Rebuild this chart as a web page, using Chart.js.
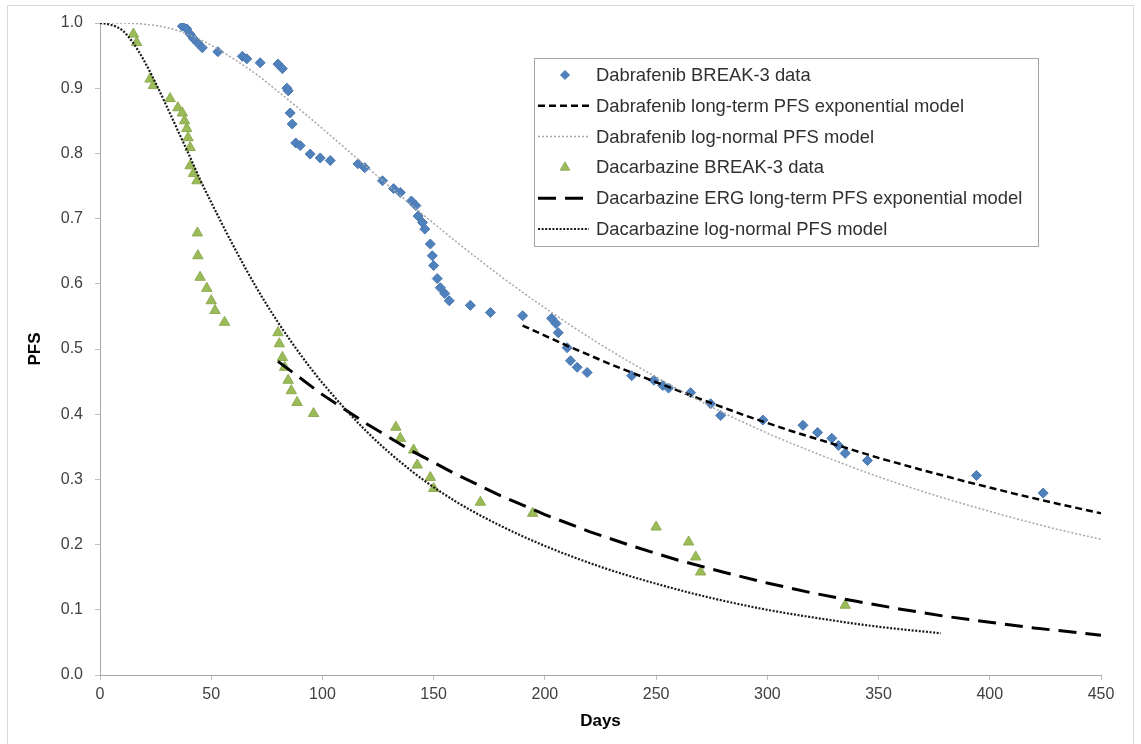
<!DOCTYPE html>
<html>
<head>
<meta charset="utf-8">
<title>PFS models</title>
<script src="https://cdn.jsdelivr.net/npm/chart.js@4.4.0/dist/chart.umd.min.js"></script>
<style>
  html, body { margin: 0; padding: 0; background: #ffffff; }
  #wrap { position: relative; width: 1141px; height: 744px; }
</style>
</head>
<body>
<div id="wrap"><canvas id="chart_pfs" width="1141" height="744"></canvas></div>
<script>
/************************************************************
    DATA
*************************************************************/
var seriesNames = [
  'Dabrafenib BREAK-3 data',
  'Dabrafenib long-term PFS exponential model',
  'Dabrafenib log-normal PFS model',
  'Dacarbazine BREAK-3 data',
  'Dacarbazine ERG long-term PFS exponential model',
  'Dacarbazine log-normal PFS model'
];

// Dabrafenib BREAK-3 KM points
var dabDays = [37, 39, 40.5, 42, 44, 46, 53, 64, 66, 72, 80, 82, 84, 84.6, 85.5, 86.4, 88, 90, 94.5, 99, 103.5,
  116, 119, 127, 132, 135, 140, 142, 143, 145, 146, 148.5, 149.4, 150, 151.6, 153, 155, 157, 166.5, 175.5,
  190, 203, 205, 206, 210, 211.5, 214.5, 219, 239, 249, 253, 255.6, 265.5, 274.5, 279, 298, 316, 322.6,
  329, 332, 335, 345, 394, 424];
var dabPfs = [0.995, 0.991, 0.983, 0.976, 0.969, 0.962, 0.956, 0.949, 0.945, 0.939, 0.937, 0.930, 0.900, 0.896, 0.862, 0.845, 0.816, 0.812, 0.799, 0.793, 0.789,
  0.784, 0.778, 0.758, 0.746, 0.740, 0.727, 0.720, 0.704, 0.694, 0.684, 0.661, 0.643, 0.628, 0.608, 0.594, 0.585, 0.574, 0.567, 0.556,
  0.551, 0.547, 0.539, 0.525, 0.502, 0.482, 0.472, 0.464, 0.459, 0.452, 0.444, 0.440, 0.433, 0.416, 0.398, 0.391, 0.383, 0.372,
  0.363, 0.352, 0.340, 0.329, 0.306, 0.279];

// Dabrafenib long-term exponential model
var dabExpDays = [190, 210, 230, 250, 270, 290, 310, 330, 350, 370, 390, 410, 430, 450];
var dabExpPfs = [0.536, 0.505, 0.476, 0.449, 0.423, 0.398, 0.375, 0.354, 0.333, 0.314, 0.296, 0.279, 0.263, 0.248];

// Dabrafenib log-normal model
var dabLnDays = [0, 10, 20, 30, 40, 50, 60, 70, 80, 90, 100, 120, 140, 160, 180, 200, 225, 250, 275, 300, 325, 350, 375, 400, 425, 450];
var dabLnPfs = [1.0, 1.0, 0.998, 0.993, 0.982, 0.966, 0.945, 0.922, 0.895, 0.867, 0.838, 0.779, 0.721, 0.665, 0.612, 0.563, 0.507, 0.457, 0.411, 0.371, 0.336, 0.304, 0.276, 0.251, 0.228, 0.208];

// Dacarbazine BREAK-3 KM points
var dacDays = [15, 16.5, 22.5, 24, 31.5, 35, 37, 38, 39, 39.6, 40.5, 40.5, 42, 43.6, 43.8, 44, 45, 48, 50, 51.7, 56,
  80, 80.6, 82, 83, 84.6, 86, 88.6, 96, 133, 135, 141, 142.6, 148.5, 150, 171, 194.5, 250, 264.6, 267.8, 270, 335];
var dacPfs = [0.983, 0.970, 0.914, 0.904, 0.884, 0.870, 0.862, 0.850, 0.838, 0.824, 0.809, 0.781, 0.769, 0.758, 0.678, 0.643, 0.610, 0.593, 0.574, 0.559, 0.541,
  0.525, 0.508, 0.487, 0.472, 0.452, 0.436, 0.418, 0.401, 0.380, 0.363, 0.345, 0.322, 0.303, 0.286, 0.265, 0.248, 0.227, 0.204, 0.181, 0.158, 0.107];

// Dacarbazine ERG long-term exponential model
var dacExpDays = [80, 100, 120, 140, 160, 180, 200, 220, 240, 260, 280, 300, 320, 340, 360, 380, 400, 420, 440, 450];
var dacExpPfs = [0.481, 0.430, 0.385, 0.344, 0.308, 0.275, 0.246, 0.220, 0.197, 0.176, 0.158, 0.141, 0.126, 0.113, 0.101, 0.090, 0.081, 0.072, 0.065, 0.061];

// Dacarbazine log-normal model
var dacLnDays = [0, 5, 10, 15, 20, 25, 30, 35, 40, 45, 50, 60, 70, 80, 90, 100, 120, 140, 160, 180, 200, 225, 250, 275, 300, 325, 350, 378];
var dacLnPfs = [1.0, 0.997, 0.989, 0.969, 0.941, 0.908, 0.872, 0.835, 0.798, 0.760, 0.725, 0.658, 0.596, 0.541, 0.492, 0.448, 0.373, 0.313, 0.266, 0.229, 0.198, 0.166, 0.140, 0.118, 0.100, 0.086, 0.074, 0.064];

/************************************************************
    helpers
*************************************************************/
function toXY(xs, ys) {
  var out = [];
  for (var i = 0; i < xs.length; i++) out.push({x: xs[i], y: ys[i]});
  return out;
}

Chart.defaults.font.family = '"Liberation Sans", Arial, sans-serif';

/* ------------------
  outer frame
-------------------*/
var framePlugin = {
  id: 'frame',
  beforeDraw: function (chart) {
    var ctx = chart.ctx;
    ctx.save();
    ctx.fillStyle = '#ffffff';
    ctx.fillRect(0, 0, chart.width, chart.height);
    ctx.strokeStyle = '#d9d9d9';
    ctx.lineWidth = 1;
    ctx.strokeRect(7.5, 5.5, 1126, 800);
    ctx.restore();
  }
};

/* ------------------
  legend box inside plot
-------------------*/
var boxLegend = {
  id: 'boxLegend',
  afterDraw: function (chart) {
    var ctx = chart.ctx;
    var sets = chart.data.datasets;
    ctx.save();
    ctx.fillStyle = '#ffffff';
    ctx.fillRect(534, 58, 504, 188);
    ctx.strokeStyle = '#a6a6a6';
    ctx.lineWidth = 1;
    ctx.strokeRect(534.5, 58.5, 504, 188);

    for (var i = 0; i < sets.length; i++) {
      var ds = sets[i];
      var y = 75 + i * 30.8;
      if (ds.showLine) {
        ctx.beginPath();
        ctx.setLineDash(ds.borderDash || []);
        ctx.strokeStyle = ds.borderColor;
        ctx.lineWidth = ds.borderWidth;
        ctx.moveTo(538, y);
        ctx.lineTo(589, y);
        ctx.stroke();
        ctx.setLineDash([]);
      } else {
        ctx.fillStyle = ds.backgroundColor;
        ctx.strokeStyle = ds.borderColor;
        ctx.lineWidth = 1;
        Chart.helpers.drawPoint(ctx, {pointStyle: ds.pointStyle, rotation: 0, radius: ds.pointRadius - 0.5, borderWidth: 1}, 565, y);
      }
      ctx.fillStyle = '#303030';
      ctx.font = '18.4px "Liberation Sans", Arial, sans-serif';
      ctx.textBaseline = 'middle';
      ctx.textAlign = 'left';
      ctx.fillText(ds.label, 596, y + 1);
    }
    ctx.restore();
  }
};

/* ------------------
  scatter chart
-------------------*/
new Chart(document.getElementById('chart_pfs'), {
  type: 'scatter',
  data: {
    datasets: [
      {
        label: seriesNames[0],
        data: toXY(dabDays, dabPfs),
        pointStyle: 'rectRot',
        pointRadius: 5,
        backgroundColor: '#4f81bd',
        borderColor: '#4a78b0',
        borderWidth: 1,
        order: 6
      },
      {
        label: seriesNames[1],
        data: toXY(dabExpDays, dabExpPfs),
        showLine: true,
        pointRadius: 0,
        borderColor: '#000000',
        borderWidth: 2.5,
        borderDash: [7, 4],
        order: 5
      },
      {
        label: seriesNames[2],
        data: toXY(dabLnDays, dabLnPfs),
        showLine: true,
        pointRadius: 0,
        borderColor: '#a6a6a6',
        borderWidth: 1.5,
        borderDash: [2, 2],
        cubicInterpolationMode: 'monotone',
        order: 4
      },
      {
        label: seriesNames[3],
        data: toXY(dacDays, dacPfs),
        pointStyle: 'triangle',
        pointRadius: 6,
        backgroundColor: '#9bbb59',
        borderColor: '#8eab51',
        borderWidth: 1,
        order: 3
      },
      {
        label: seriesNames[4],
        data: toXY(dacExpDays, dacExpPfs),
        showLine: true,
        pointRadius: 0,
        borderColor: '#000000',
        borderWidth: 3,
        borderDash: [18, 9],
        order: 2
      },
      {
        label: seriesNames[5],
        data: toXY(dacLnDays, dacLnPfs),
        showLine: true,
        pointRadius: 0,
        borderColor: '#1a1a1a',
        borderWidth: 2.2,
        borderDash: [2, 1.6],
        cubicInterpolationMode: 'monotone',
        order: 1
      }
    ]
  },
  options: {
    responsive: false,
    animation: false,
    devicePixelRatio: 1,
    layout: { padding: { left: 0, right: 40, top: 23, bottom: 0 } },
    plugins: {
      legend: { display: false },
      tooltip: { enabled: false }
    },
    scales: {
      x: {
        type: 'linear',
        min: 0,
        max: 450,
        ticks: {
          stepSize: 50,
          color: '#404040',
          font: { size: 16 },
          padding: 5,
          maxRotation: 0
        },
        grid: { drawOnChartArea: false, drawTicks: true, tickLength: 5, color: '#bfbfbf' },
        border: { display: true, color: '#a6a6a6', width: 1 },
        title: {
          display: true,
          text: 'Days',
          color: '#000000',
          font: { size: 17, weight: 'bold' },
          padding: { top: 4, bottom: 12 }
        },
        afterFit: function (scale) { scale.height = 69; }
      },
      y: {
        type: 'linear',
        min: 0,
        max: 1,
        ticks: {
          stepSize: 0.1,
          color: '#404040',
          font: { size: 16 },
          padding: 12,
          callback: function (v) { return v.toFixed(1); }
        },
        grid: { drawOnChartArea: false, drawTicks: true, tickLength: 5, color: '#bfbfbf' },
        border: { display: true, color: '#a6a6a6', width: 1 },
        title: {
          display: true,
          text: 'PFS',
          color: '#000000',
          font: { size: 17, weight: 'bold' },
          padding: { top: 25, bottom: 0 }
        },
        afterFit: function (scale) { scale.width = 100; }
      }
    }
  },
  plugins: [framePlugin, boxLegend]
});
</script>
</body>
</html>
